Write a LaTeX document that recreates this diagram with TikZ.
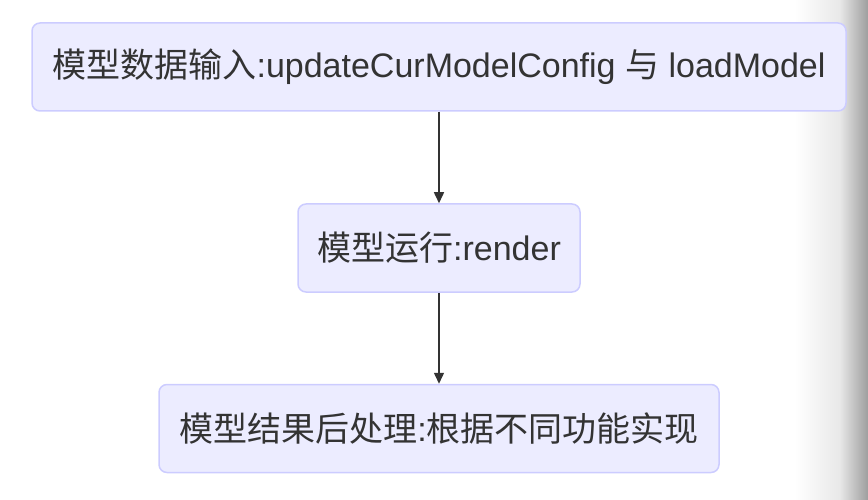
\documentclass[tikz,border=0pt]{standalone}
\usepackage{fontspec}
\setmainfont{Liberation Sans}
\newfontfamily\cjk{Noto Sans CJK SC}
\usetikzlibrary{arrows.meta}
\definecolor{boxfill}{HTML}{ECECFF}
\definecolor{boxline}{HTML}{CCCCFF}
\definecolor{linkline}{HTML}{333333}
\begin{document}
\begin{tikzpicture}[x=1pt,y=-1pt,
    stage/.style={draw=boxline, fill=boxfill, line width=1.5pt, rounded corners=8pt,
        minimum height=88pt, inner xsep=4pt, inner ysep=0pt, text=linkline,
        font=\fontsize{34}{40}\selectfont},
    link/.style={draw=linkline, line width=1.5pt, -{Triangle[length=11pt,width=10pt]}}]
        \useasboundingbox (0,0) rectangle (868,500);
        \shade[left color=white, right color=black!9] (795,0) rectangle (840,500);
        \shade[left color=black!9, right color=black!38] (839.5,0) rectangle (868,500);
        \node[stage, minimum width=814pt] (input) at (439,67) {{\cjk 模型数据输入}:updateCurModelConfig {\cjk 与} loadModel};
        \node[stage, minimum width=282pt] (run) at (439,248) {{\cjk 模型运行}:render};
        \node[stage, minimum width=560pt] (post) at (439,428.5) {{\cjk 模型结果后处理}:{\cjk 根据不同功能实现}};
        \draw[link] (input) -- (run);
        \draw[link] (run) -- (post);
    \end{tikzpicture}
\end{document}
